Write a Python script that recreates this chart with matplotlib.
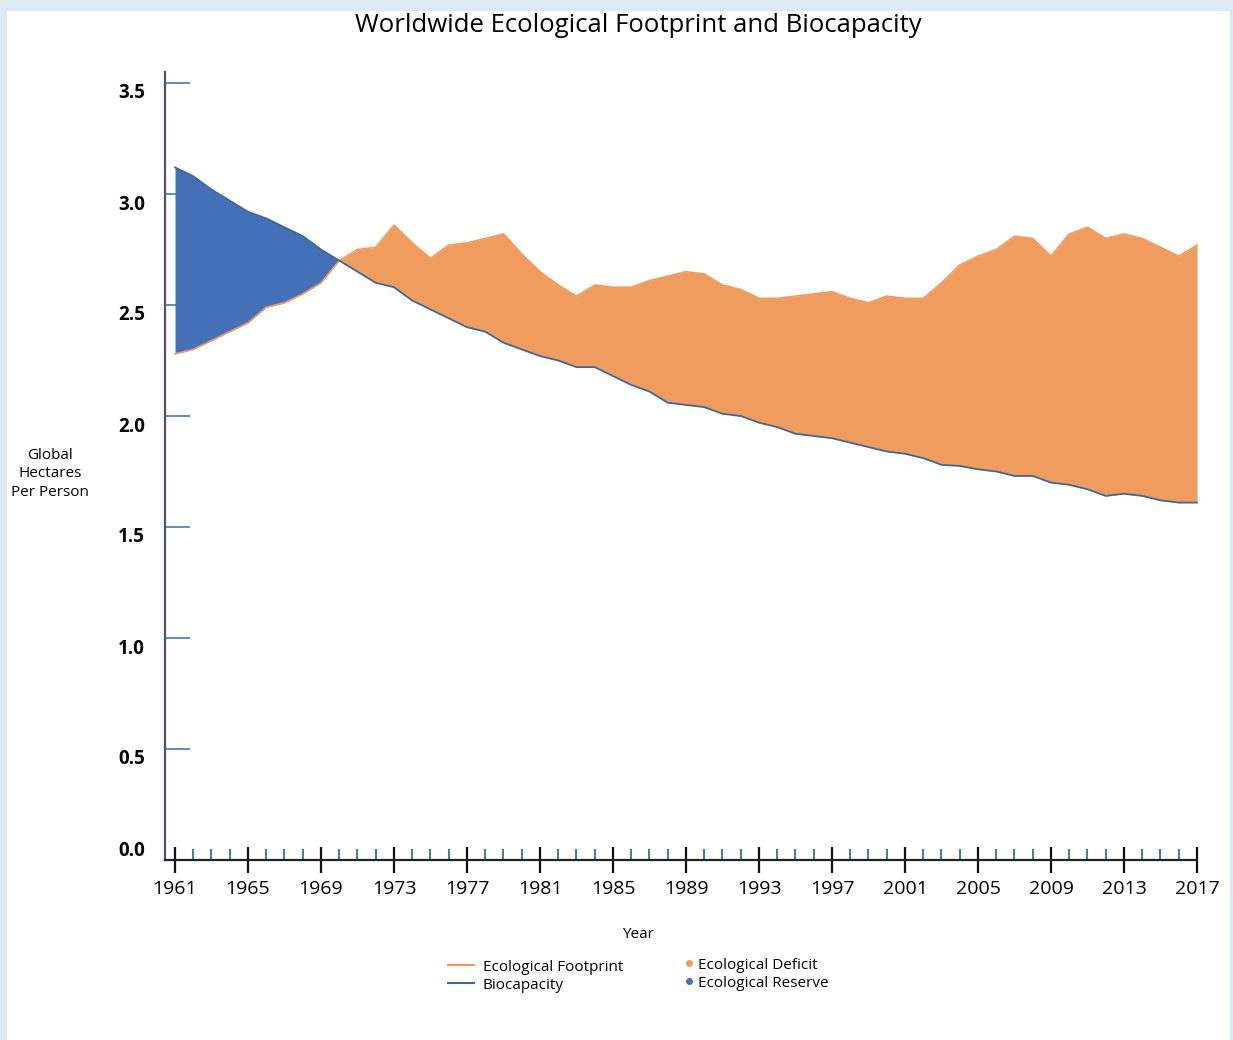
import numpy as np
import matplotlib
matplotlib.use("Agg")
import matplotlib.pyplot as plt
from matplotlib.lines import Line2D
from matplotlib.patches import Rectangle
import matplotlib.transforms as mtransforms

# data (global hectares per person)
years = list(range(1961, 2018))
footprint = [2.28, 2.30, 2.34, 2.38, 2.42, 2.49, 2.51, 2.55, 2.60, 2.70,
             2.75, 2.76, 2.86, 2.78, 2.71, 2.77, 2.78, 2.80, 2.82, 2.73,
             2.65, 2.59, 2.54, 2.59, 2.58, 2.58, 2.61, 2.63, 2.65, 2.64,
             2.59, 2.57, 2.53, 2.53, 2.54, 2.55, 2.56, 2.53, 2.51, 2.54,
             2.53, 2.53, 2.60, 2.68, 2.72, 2.75, 2.81, 2.80, 2.72, 2.82,
             2.85, 2.80, 2.82, 2.80, 2.76, 2.72, 2.77]
biocapacity = [3.12, 3.08, 3.02, 2.97, 2.92, 2.89, 2.85, 2.81, 2.75, 2.70,
               2.65, 2.60, 2.58, 2.52, 2.48, 2.44, 2.40, 2.38, 2.33, 2.30,
               2.27, 2.25, 2.22, 2.22, 2.18, 2.14, 2.11, 2.06, 2.05, 2.04,
               2.01, 2.00, 1.97, 1.95, 1.92, 1.91, 1.90, 1.88, 1.86, 1.84,
               1.83, 1.81, 1.78, 1.775, 1.76, 1.75, 1.73, 1.73, 1.70, 1.69,
               1.67, 1.64, 1.65, 1.64, 1.62, 1.61, 1.61]
ytick_vals = [0.0, 0.5, 1.0, 1.5, 2.0, 2.5, 3.0, 3.5]
major_years = list(range(1961, 2018, 4))

ORANGE = "#F09C5F"
BLUE = "#4470B7"
LINE_BLUE = "#3C6A96"
TICK_BLUE = "#3F7AB2"

plt.rcParams['font.family'] = ['Open Sans', 'DejaVu Sans']

W, H = 1233, 1040
fig = plt.figure(figsize=(W / 100, H / 100), dpi=100)
fig.patch.set_facecolor("#DDEAF6")
fig.add_artist(Rectangle((7 / W, 0), (1230 - 7) / W, (H - 11) / H,
                         transform=fig.transFigure, facecolor="white",
                         edgecolor="none", zorder=0))

# axes placed in pixels: y axis at x=165, x axis at y=860, top at y=72
px_per_year = 18.25
px_per_unit = 222
left_px, right_px, top_px, base_px = 165, 1212, 72, 860
ax = fig.add_axes([left_px / W, (H - base_px) / H,
                   (right_px - left_px) / W, (base_px - top_px) / H])
ax.set_facecolor("none")
ax.set_xlim(1961 - (175 - left_px) / px_per_year,
            1961 + (right_px - 175) / px_per_year)
ax.set_ylim(0, (base_px - top_px) / px_per_unit)

fp = np.array(footprint)
bc = np.array(biocapacity)
ax.fill_between(years, fp, bc, where=fp >= bc, interpolate=True,
                color=ORANGE, lw=0, zorder=2)
ax.fill_between(years, fp, bc, where=bc >= fp, interpolate=True,
                color=BLUE, lw=0, zorder=2)
ax.plot(years, footprint, color=ORANGE, lw=1.2, zorder=3)
ax.plot(years, biocapacity, color=LINE_BLUE, lw=1.3, zorder=4)

for s in ['top', 'right']:
    ax.spines[s].set_visible(False)
ax.spines['left'].set_color("#4B5663")
ax.spines['left'].set_linewidth(1.6)
ax.spines['bottom'].set_color("#222222")
ax.spines['bottom'].set_linewidth(1.6)
ax.spines['bottom'].set_bounds(ax.get_xlim()[0], 2017)

# x ticks
ax.set_xticks(major_years)
ax.set_xticklabels([str(y) for y in major_years], fontsize=14)
ax.set_xticks([y for y in years if y not in major_years], minor=True)
ax.tick_params(axis='x', which='major', direction='inout', length=19,
               width=1.6, color="#111111", pad=5)
ax.tick_params(axis='x', which='minor', direction='in', length=8,
               width=1.4, color=TICK_BLUE)

# y ticks: blue lines pointing into the plot, bold labels slightly below
ax.set_yticks(ytick_vals)
ax.set_yticklabels([f"{v:.1f}" for v in ytick_vals], fontsize=13.5,
                   fontweight='bold')
ax.tick_params(axis='y', direction='in', length=18, width=1.2,
               color=TICK_BLUE, pad=14.5)
for v, lab in zip(ytick_vals, ax.get_yticklabels()):
    dy = 12 if v == 0 else -8
    lab.set_transform(lab.get_transform() +
                      mtransforms.ScaledTranslation(0, dy / 100,
                                                    fig.dpi_scale_trans))

fig.text(638 / W, 1 - 26 / H, "Worldwide Ecological Footprint and Biocapacity",
         ha='center', va='center', fontsize=18.5)
fig.text(50 / W, 1 - 474 / H, "Global\nHectares\nPer Person", ha='center',
         va='center', fontsize=11, linespacing=1.35)
fig.text(638 / W, 1 - 935 / H, "Year", ha='center', va='center', fontsize=11)

leg1 = fig.legend(handles=[Line2D([], [], color=ORANGE, lw=1.5),
                           Line2D([], [], color=LINE_BLUE, lw=1.5)],
                  labels=["Ecological Footprint", "Biocapacity"],
                  loc='upper left', bbox_to_anchor=(440 / W, 1 - 952 / H),
                  frameon=False, fontsize=11, handlelength=1.7,
                  handletextpad=0.6, labelspacing=0.2, borderpad=0)
leg2 = fig.legend(handles=[Line2D([], [], color=ORANGE, marker='o', ls='',
                                  markersize=4),
                           Line2D([], [], color=BLUE, marker='o', ls='',
                                  markersize=4)],
                  labels=["Ecological Deficit", "Ecological Reserve"],
                  loc='upper left', bbox_to_anchor=(672 / W, 1 - 950 / H),
                  frameon=False, fontsize=11, handlelength=1.2,
                  handletextpad=0.0, labelspacing=0.2, borderpad=0)

fig.savefig("out.png", dpi=100, facecolor=fig.get_facecolor())
